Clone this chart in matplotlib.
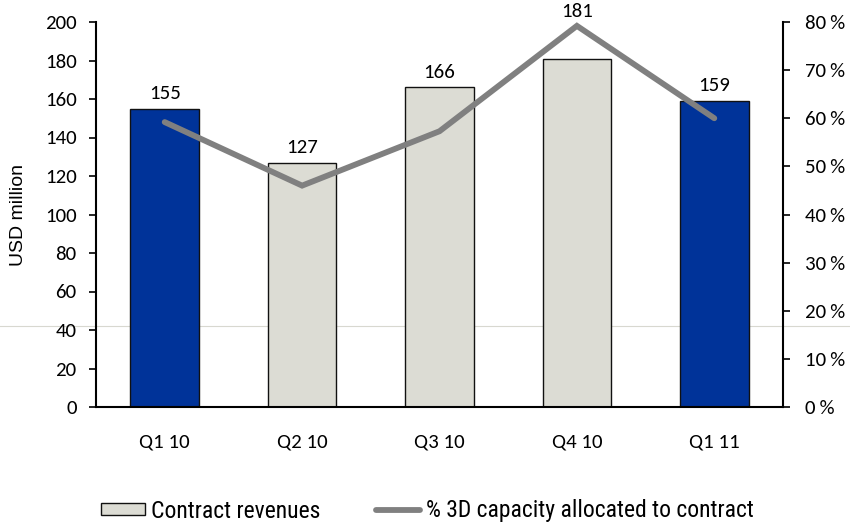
import matplotlib
matplotlib.use("Agg")
import matplotlib.pyplot as plt
from matplotlib.patches import Patch
from matplotlib.lines import Line2D
from matplotlib.ticker import FuncFormatter

categories = ["Q1 10", "Q2 10", "Q3 10", "Q4 10", "Q1 11"]
revenues = [155, 127, 166, 181, 159]
capacity_pct = [59.2, 46.0, 57.3, 79.2, 60.0]
highlight = [True, False, False, False, True]

main_font = ["Carlito", "DejaVu Sans"]
arial = ["Liberation Sans", "DejaVu Sans"]
narrow_font = ["Roboto Condensed", "Liberation Sans", "DejaVu Sans"]

BLUE = "#003399"
LIGHT = "#dcdcd4"
LINE = "#808080"

fig = plt.figure(figsize=(8.5, 5.24), dpi=100)
ax = fig.add_axes([96/850, 1-407/524, (783-96)/850, (407-22)/524])
ax.patch.set_alpha(0)

# faint artifact line across the figure (as in the reference)
fig.add_artist(Line2D([0, 1], [1-326/524, 1-326/524], transform=fig.transFigure,
                      color="#d8d8d0", lw=0.8, zorder=0))

x = list(range(len(categories)))
colors = [BLUE if h else LIGHT for h in highlight]
ax.bar(x, revenues, width=0.5, color=colors, edgecolor="#111111", linewidth=1.0, zorder=2)

label_nudge = {3: 23}  # extra points of lift for the Q4 10 label
for xi, v in zip(x, revenues):
    ax.annotate(str(v), (xi, v), xytext=(0, 5 + label_nudge.get(xi, 0)), textcoords="offset points",
                ha="center", va="bottom", fontsize=15, family=main_font, zorder=5)

ax.set_xlim(-0.5, len(categories) - 0.5)
ax.set_ylim(0, 200)
ax.set_yticks(range(0, 201, 20))
ax.set_xticks(x)
ax.set_xticklabels(categories, family=main_font, fontsize=15)
ax.tick_params(axis="x", length=0, pad=19)
ax.tick_params(axis="y", length=5, width=1.2, direction="out", labelsize=15, pad=9)
for lbl in ax.get_yticklabels():
    lbl.set_family(main_font)
ax.set_ylabel("USD million", fontsize=14, family=arial, labelpad=13)
ax.spines["top"].set_visible(False)
ax.spines["right"].set_visible(False)
ax.spines["left"].set_linewidth(1.5)
ax.spines["bottom"].set_linewidth(1.5)

ax2 = ax.twinx()
ax2.set_ylim(0, 80)
ax2.set_yticks(range(0, 81, 10))
ax2.yaxis.set_major_formatter(FuncFormatter(lambda v, p: f"{int(v)}\u2009%"))
ax2.tick_params(axis="y", length=5, width=1.2, direction="out", labelsize=15, pad=11)
for lbl in ax2.get_yticklabels():
    lbl.set_family(main_font)
ax2.spines["top"].set_visible(False)
ax2.spines["left"].set_visible(False)
ax2.spines["bottom"].set_visible(False)
ax2.spines["right"].set_linewidth(1.5)
ax2.plot(x, capacity_pct, color=LINE, lw=4.2, solid_capstyle="round", solid_joinstyle="miter", zorder=4)

handles = [Patch(facecolor=LIGHT, edgecolor="#111111", linewidth=1.0),
           Line2D([0], [0], color=LINE, lw=4.2, solid_capstyle="round")]
fig.legend(handles, ["Contract revenues", "% 3D capacity allocated to contract"],
           loc="center left", bbox_to_anchor=(101/850, 1-511/524), ncol=2, frameon=False,
           prop={"family": narrow_font, "size": 17}, handlelength=1.85, handleheight=0.42,
           handletextpad=0.28, columnspacing=2.35, borderpad=0, borderaxespad=0)

fig.savefig("out.png", dpi=100)
